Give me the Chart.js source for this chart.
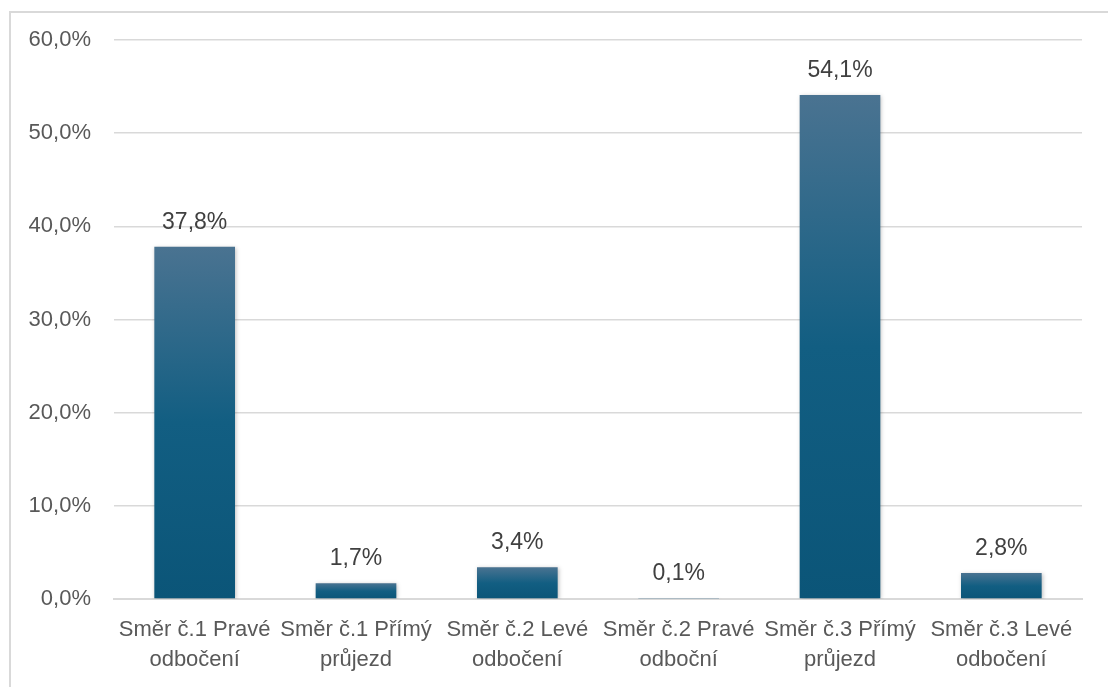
<!DOCTYPE html>
<html>
<head>
<meta charset="utf-8">
<script src="https://cdn.jsdelivr.net/npm/chart.js@4"></script>
<style>
  html, body { margin: 0; padding: 0; background: #fff; }
  #wrap { position: relative; width: 1108px; height: 687px; overflow: hidden; }
  #frame { position: absolute; left: 9px; top: 11px; width: 1110px; height: 700px; border: 2px solid #d9d9d9; box-sizing: border-box; pointer-events: none; }
  canvas { position: absolute; left: 0; top: 0; }
</style>
</head>
<body>
<div id="wrap">
  <canvas id="myChart" width="1108" height="687"></canvas>
  <div id="frame"></div>
</div>
<script>
const categories = [
    ['Směr č.1 Pravé', 'odbočení'],
    ['Směr č.1 Přímý', 'průjezd'],
    ['Směr č.2 Levé', 'odbočení'],
    ['Směr č.2 Pravé', 'odboční'],
    ['Směr č.3 Přímý', 'průjezd'],
    ['Směr č.3 Levé', 'odbočení']
];
const shares = [37.8, 1.7, 3.4, 0.1, 54.1, 2.8];
const yTicks = [0, 10, 20, 30, 40, 50, 60];

const FONT = '"Liberation Sans", Arial, sans-serif';

function fmt(v, d) {
    return v.toFixed(d).replace('.', ',') + '%';
}

// gradient for each bar, lighter at its top
function barFill(context) {
    const chart = context.chart;
    const y = chart.scales.y;
    if (!y || context.dataIndex === undefined) return '#105e80';
    const top = y.getPixelForValue(context.raw);
    const base = y.getPixelForValue(0);
    if (!isFinite(top) || !isFinite(base) || base - top < 1) return '#2d6688';
    const g = chart.ctx.createLinearGradient(0, top, 0, base);
    g.addColorStop(0, '#4a7391');
    g.addColorStop(0.5, '#125e82');
    g.addColorStop(1, '#0b5578');
    return g;
}

const valueLabels = {
    id: 'valueLabels',
    beforeDatasetDraw(chart) {
        const ctx = chart.ctx;
        ctx.save();
        ctx.shadowColor = 'rgba(0,0,0,0.25)';
        ctx.shadowBlur = 4;
        ctx.shadowOffsetX = 1;
        ctx.shadowOffsetY = 1;
    },
    afterDatasetDraw(chart) {
        chart.ctx.restore();
    },
    afterDatasetsDraw(chart) {
        const ctx = chart.ctx;
        const meta = chart.getDatasetMeta(0);
        ctx.save();
        ctx.font = '23px ' + FONT;
        ctx.fillStyle = '#404040';
        ctx.textAlign = 'center';
        ctx.textBaseline = 'alphabetic';
        meta.data.forEach(function(bar, i) {
            ctx.fillText(fmt(shares[i], 1), bar.x, bar.y - 18);
        });
        ctx.restore();
    }
};

const ctx = document.getElementById('myChart').getContext('2d');
new Chart(ctx, {
    type: 'bar',
    data: {
        labels: categories,
        datasets: [{
            data: shares,
            backgroundColor: barFill,
            borderWidth: 0,
            barPercentage: 0.5,
            categoryPercentage: 1.0
        }]
    },
    options: {
        responsive: false,
        animation: false,
        devicePixelRatio: 1,
        layout: { padding: { top: 40, right: 26, left: 0, bottom: 0 } },
        plugins: {
            legend: { display: false },
            tooltip: { enabled: false }
        },
        scales: {
            y: {
                min: 0,
                max: 60,
                afterFit: function(scale) { scale.width = 114; },
                afterBuildTicks: function(scale) {
                    scale.ticks = yTicks.map(function(v) { return { value: v }; });
                },
                border: { display: false },
                grid: { color: '#d9d9d9', lineWidth: 1.5, drawTicks: false },
                ticks: {
                    padding: 23,
                    color: '#595959',
                    font: { family: FONT, size: 22 },
                    callback: function(v) { return fmt(v, 1); }
                }
            },
            x: {
                afterFit: function(scale) { scale.height = 88; },
                border: { display: true, color: '#d9d9d9', width: 2 },
                grid: { display: false, drawTicks: false },
                ticks: {
                    padding: 16,
                    maxRotation: 0,
                    autoSkip: false,
                    color: '#595959',
                    font: { family: FONT, size: 22, lineHeight: 30 / 22 }
                }
            }
        }
    },
    plugins: [valueLabels]
});
</script>
</body>
</html>
